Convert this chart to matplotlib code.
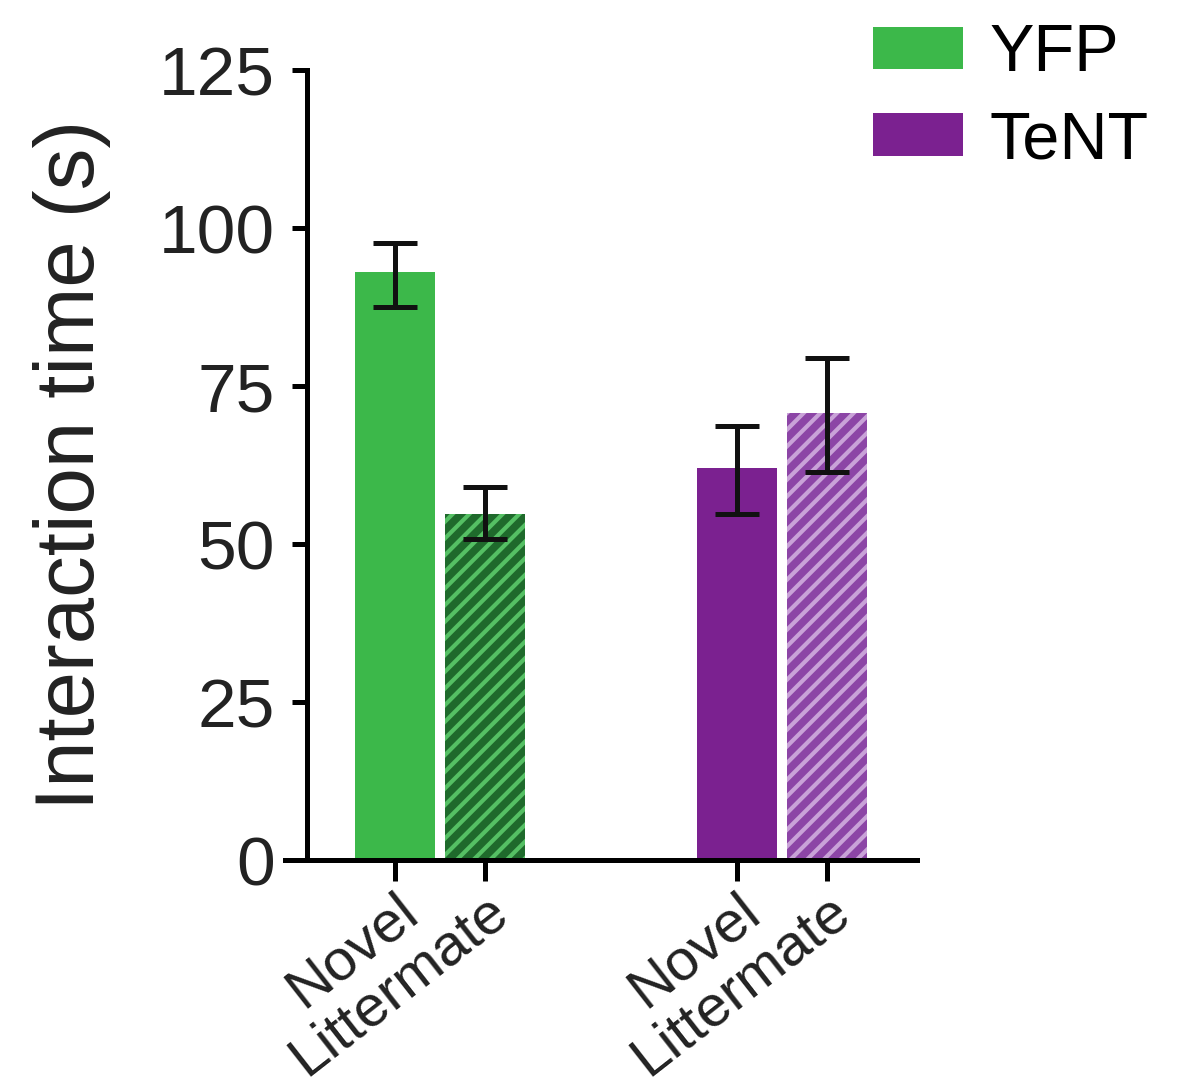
import matplotlib
matplotlib.use("Agg")
import matplotlib.pyplot as plt
from matplotlib.patches import Patch

# values
groups = ["YFP", "TeNT"]
conditions = ["Novel", "Littermate"]
yfp_means = [93.0, 54.8]
yfp_upper = [97.6, 59.0]
yfp_lower = [87.5, 50.8]
tent_means = [62.0, 70.8]
tent_upper = [68.6, 79.5]
tent_lower = [54.8, 61.4]
tick_labels = ["Novel", "Littermate", "Novel", "Littermate"]
yticks = [0, 25, 50, 75, 100, 125]

plt.rcParams["font.family"] = ["Liberation Sans", "DejaVu Sans"]
plt.rcParams["hatch.linewidth"] = 3.0

green = "#3cb84a"
purple = "#7b2190"
txt = "#222222"

fig = plt.figure(figsize=(11.85, 10.89), dpi=100)
ax = fig.add_axes([285 / 1185, 1 - 860 / 1089, (917 - 285) / 1185, (860 - 70) / 1089])

pos = [0, 1, 3.8, 4.8]
means = yfp_means + tent_means
upper = yfp_upper + tent_upper
lower = yfp_lower + tent_lower
faces = [green, "#1f6a2c", purple, "#8c45a6"]
hatch_cols = [green, "#55c064", purple, "#c9a2d8"]
hatches = [None, "//", None, "//"]

for x, m, fc, hc, h in zip(pos, means, faces, hatch_cols, hatches):
    ax.bar(x, m, width=0.89, color=fc, edgecolor=hc, hatch=h, linewidth=0, zorder=1)

err = [[m - lo for m, lo in zip(means, lower)], [u - m for m, u in zip(means, upper)]]
ax.errorbar(pos, means, yerr=err, fmt="none", ecolor="#111111", elinewidth=3.6,
            capsize=16, capthick=3.6, zorder=3)

ax.set_xlim(-1.22, 5.8)
ax.set_ylim(0, 125)
ax.spines["left"].set_position(("data", -0.98))
ax.spines["top"].set_visible(False)
ax.spines["right"].set_visible(False)
for side in ["left", "bottom"]:
    ax.spines[side].set_linewidth(3.6)
    ax.spines[side].set_zorder(4)

ax.set_yticks(yticks)
ax.set_yticklabels([str(t) for t in yticks], fontsize=50, color=txt)
ax.tick_params(axis="y", length=11, width=3.6, pad=12)
ax.set_xticks(pos)
ax.set_xticklabels(tick_labels, fontsize=42, color=txt, rotation=38,
                   ha="right", rotation_mode="anchor")
ax.tick_params(axis="x", length=15, width=3.6, pad=2)
ax.set_ylabel("Interaction time (s)", fontsize=60, color=txt, labelpad=34)

handles = [Patch(facecolor=green), Patch(facecolor=purple)]
fig.legend(handles, groups, loc="upper left", bbox_to_anchor=(846 / 1185, 1.003),
           frameon=False, fontsize=48, handlelength=1.35, handleheight=0.6,
           handletextpad=0.4, labelspacing=0.37, borderaxespad=0)

fig.savefig("out.png", dpi=100)
